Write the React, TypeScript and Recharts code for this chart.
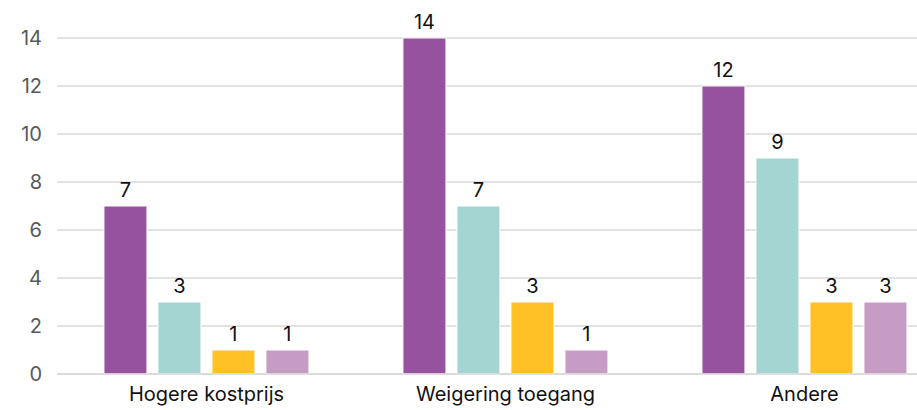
import { Bar, BarChart, CartesianGrid, LabelList, XAxis, YAxis } from "recharts";

const categories = ["Hogere kostprijs", "Weigering toegang", "Andere"];
const purpleValues = [7, 14, 12];
const tealValues = [3, 7, 9];
const yellowValues = [1, 3, 3];
const lilacValues = [1, 1, 3];
const yTicks = [0, 2, 4, 6, 8, 10, 12, 14];

const data = categories.map((name, i) => ({
  name,
  purple: purpleValues[i],
  teal: tealValues[i],
  yellow: yellowValues[i],
  lilac: lilacValues[i],
}));

const font = "Inter, 'DejaVu Sans', sans-serif";

const series = [
  { key: "purple", color: "#96529e" },
  { key: "teal", color: "#a5d5d2" },
  { key: "yellow", color: "#ffc125" },
  { key: "lilac", color: "#c69cc4" },
];

export default function App() {
  return (
    <div
      style={{
        position: "absolute",
        left: 0,
        top: 0,
        width: 917,
        height: 410,
        overflow: "hidden",
        background: "#fff",
        fontFamily: font,
      }}
    >
      <BarChart
        width={954}
        height={410}
        data={data}
        margin={{ top: 38, right: 0, left: 0, bottom: 0 }}
        barGap={11}
        barCategoryGap="15.7%"
      >
        <CartesianGrid vertical={false} stroke="#d9d9d9" strokeWidth={1.5} />
        <XAxis
          dataKey="name"
          height={36}
          axisLine={{ stroke: "#d9d9d9", strokeWidth: 1.5 }}
          tickLine={false}
          tickSize={0}
          tickMargin={13}
          tick={{ fill: "#111", fontSize: 20, fontFamily: font }}
        />
        <YAxis
          width={57}
          domain={[0, 14]}
          ticks={yTicks}
          axisLine={false}
          tickLine={false}
          tickSize={0}
          tickMargin={15}
          tick={{ fill: "#595959", fontSize: 20, fontFamily: font }}
        />
        {series.map((s) => (
          <Bar key={s.key} dataKey={s.key} fill={s.color} stroke="#fff" strokeWidth={1} isAnimationActive={false}>
            <LabelList dataKey={s.key} position="top" offset={9} fill="#111" fontSize={20} fontFamily={font} />
          </Bar>
        ))}
      </BarChart>
    </div>
  );
}
